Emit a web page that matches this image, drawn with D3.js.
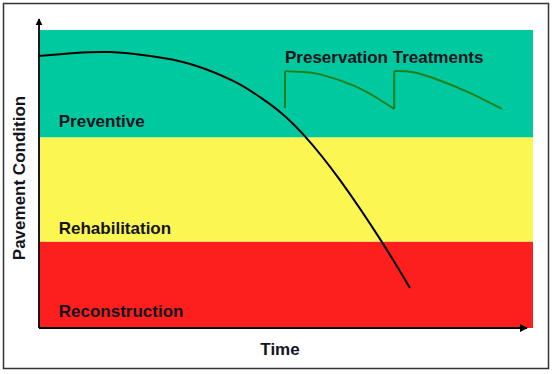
<!DOCTYPE html>
<html>
<head>
<meta charset="utf-8">
<script src="https://cdn.jsdelivr.net/npm/d3@7"></script>
<style>
  body { margin: 0; background: #fff; }
  text { font-family: "Liberation Sans", Arial, sans-serif; font-weight: bold; fill: #141420; }
</style>
</head>
<body>
<div id="chart"></div>
<script>
// condition bands (lower, upper) on a 0-100 scale
const bandNames = ['Reconstruction', 'Rehabilitation', 'Preventive'];
const bandLimits = [0, 29, 64, 100];
const bandColors = ['#fc1f1d', '#fcf653', '#00c99f'];

// pavement deterioration without treatment: [time, condition]
const decayCurve = [
    [0, 91.3], [7.3, 92.3], [14.4, 92.6], [22.5, 91.3], [30.6, 88.6],
    [39.3, 82.9], [44.7, 77.5], [48.8, 72.5], [53.8, 64.4], [60.9, 49.7],
    [69.4, 28.9], [75.1, 13.4]
];

// preservation treatment cycles: time of treatment, condition before, then decay after
const treatmentStart = [49.8, 71.9];
const treatmentBefore = [73.8, 73.5];
const treatmentCycles = [
    [[49.8, 86.2], [53.4, 85.9], [56.9, 85.1], [63.6, 81.4], [69.0, 76.6], [71.9, 73.5]],
    [[71.9, 86.2], [75.5, 85.9], [80.6, 83.4], [87.2, 78.9], [93.7, 73.5]]
];

const width = 554, height = 374;
const x = d3.scaleLinear().domain([0, 100]).range([39, 533]);
const y = d3.scaleLinear().domain([0, 100]).range([328, 30]);

const svg = d3.select('#chart').append('svg')
    .attr('width', width)
    .attr('height', height);

// frame
svg.append('rect')
    .attr('x', 3.5).attr('y', 3.5)
    .attr('width', 545).attr('height', 365)
    .attr('fill', 'none')
    .attr('stroke', '#333')
    .attr('stroke-width', 1.5);

// bands
svg.selectAll('.band')
    .data(bandNames)
    .enter().append('rect')
    .attr('class', 'band')
    .attr('x', x(0))
    .attr('y', (d, i) => y(bandLimits[i + 1]))
    .attr('width', x(100) - x(0))
    .attr('height', (d, i) => y(bandLimits[i]) - y(bandLimits[i + 1]))
    .attr('fill', (d, i) => bandColors[i]);

// band labels
const labelBaseline = [317, 234, 127];
svg.selectAll('.bandLabel')
    .data(bandNames)
    .enter().append('text')
    .attr('class', 'bandLabel')
    .attr('x', x(4))
    .attr('y', (d, i) => labelBaseline[i])
    .attr('font-size', 17)
    .text(d => d);

const line = d3.line()
    .x(d => x(d[0]))
    .y(d => y(d[1]))
    .curve(d3.curveNatural);

// treatments
treatmentCycles.forEach((cycle, i) => {
    svg.append('line')
        .attr('x1', x(treatmentStart[i])).attr('x2', x(treatmentStart[i]))
        .attr('y1', y(treatmentBefore[i])).attr('y2', y(cycle[0][1]))
        .attr('stroke', '#23801c')
        .attr('stroke-width', 2);
    svg.append('path')
        .attr('d', line(cycle))
        .attr('fill', 'none')
        .attr('stroke', '#23801c')
        .attr('stroke-width', 2);
});

svg.append('text')
    .attr('x', x(treatmentStart[0]))
    .attr('y', 63)
    .attr('font-size', 17)
    .text('Preservation Treatments');

// deterioration curve
svg.append('path')
    .attr('d', line(decayCurve))
    .attr('fill', 'none')
    .attr('stroke', '#000')
    .attr('stroke-width', 2);

// axes with arrows
svg.append('defs').append('marker')
    .attr('id', 'arrow')
    .attr('viewBox', '0 0 10 10')
    .attr('refX', 9).attr('refY', 5)
    .attr('markerWidth', 4).attr('markerHeight', 4)
    .attr('orient', 'auto')
    .append('path')
    .attr('d', 'M0,0L10,5L0,10Z')
    .attr('fill', '#000');

svg.append('line')
    .attr('x1', x(0)).attr('x2', x(0))
    .attr('y1', y(0)).attr('y2', 19)
    .attr('stroke', '#000').attr('stroke-width', 1.8)
    .attr('marker-end', 'url(#arrow)');

svg.append('line')
    .attr('x1', x(0)).attr('x2', 527)
    .attr('y1', y(0)).attr('y2', y(0))
    .attr('stroke', '#000').attr('stroke-width', 2)
    .attr('marker-end', 'url(#arrow)');

svg.append('text')
    .attr('x', 280)
    .attr('y', 355)
    .attr('text-anchor', 'middle')
    .attr('font-size', 17)
    .text('Time');

svg.append('text')
    .attr('transform', 'translate(25,178) rotate(-90)')
    .attr('text-anchor', 'middle')
    .attr('font-size', 17)
    .text('Pavement Condition');
</script>
</body>
</html>
